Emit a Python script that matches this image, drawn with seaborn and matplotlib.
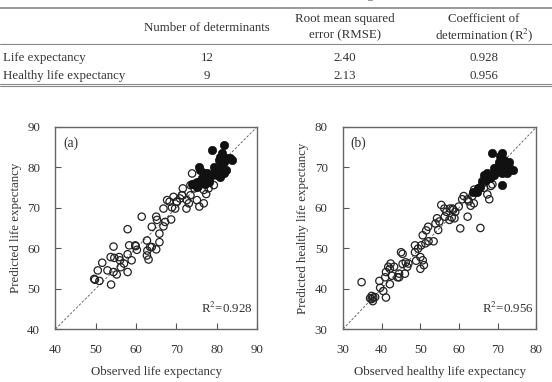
import numpy as np
import pandas as pd
import seaborn as sns
import matplotlib.pyplot as plt
from matplotlib.lines import Line2D

# ---- table values ----
table_rows = ['Life expectancy', 'Healthy life expectancy']
n_determinants = ['12', '9']
rmse = ['2.40', '2.13']
r2 = ['0.928', '0.956']

# ---- panel (a): life expectancy (observed, predicted) ----
le_open_obs = [49.6, 49.8, 50.9, 50.5, 51.6, 53.8, 52.9, 53.7, 54.4, 54.6, 55.8, 56.0, 54.4, 55.2,
               56.2, 57.0, 57.9, 57.9, 58.9, 58.3, 57.9, 59.9, 60.2, 59.8, 61.4, 62.7, 62.8, 62.7,
               63.1, 63.5, 63.9, 65.0, 63.9, 65.0, 65.2, 65.8, 65.8, 66.8, 67.2, 68.7, 66.8, 67.7,
               68.3, 68.9, 69.7, 69.3, 70.1, 70.9, 71.4, 71.6, 72.5, 73.1, 73.5, 73.9, 74.5, 75.1,
               75.7, 76.8, 77.4, 78.0, 79.3, 75.5, 76.8, 73.5, 74.7, 72.6, 71.4, 70.1]
le_open_pred = [52.4, 52.2, 51.9, 54.5, 56.4, 51.0, 54.5, 57.8, 60.4, 57.6, 57.8, 57.0, 54.1, 53.5,
                55.3, 56.2, 54.1, 58.5, 57.0, 60.7, 64.7, 60.5, 59.6, 60.7, 67.8, 61.9, 59.4, 58.2,
                57.2, 60.3, 60.3, 59.7, 65.3, 67.8, 67.0, 63.6, 61.5, 65.4, 66.5, 67.1, 69.8, 71.9,
                71.5, 70.1, 69.8, 72.7, 71.5, 72.3, 73.1, 74.8, 69.8, 71.1, 73.1, 78.5, 74.8, 71.9,
                70.3, 71.1, 73.4, 74.8, 75.6, 75.2, 74.4, 75.6, 76.0, 71.9, 73.1, 71.5]
le_fill_obs = [78.8, 81.7, 81.3, 83.4, 81.7, 80.9, 80.1, 81.7, 79.3, 77.6, 76.8, 76.0, 75.1, 74.3,
               75.5, 75.9, 76.8, 78.4, 80.1, 82.2, 80.5, 82.6, 83.8, 80.9, 79.7, 78.0, 76.4, 75.1,
               73.9, 77.2, 79.3, 80.9, 81.3]
le_fill_pred = [84.3, 85.5, 83.5, 82.2, 81.4, 80.1, 79.3, 78.5, 78.5, 78.5, 77.7, 76.8, 76.4, 76.0,
                80.1, 79.3, 78.5, 77.7, 78.1, 79.3, 81.8, 82.2, 81.8, 82.6, 78.9, 76.4, 77.3, 75.2,
                76.0, 76.0, 80.1, 77.7, 78.9]

# ---- panel (b): healthy life expectancy (observed, predicted) ----
hle_open_obs = [34.8, 37.4, 37.8, 37.7, 37.0, 38.3, 37.4, 39.4, 39.6, 40.4, 41.1, 40.9, 41.1, 41.7,
                42.1, 42.6, 42.3, 42.1, 43.2, 44.5, 44.1, 44.5, 45.4, 45.0, 46.2, 45.4, 46.0, 46.6,
                46.9, 48.6, 48.6, 48.9, 50.0, 49.4, 50.2, 50.0, 50.9, 50.6, 50.6, 51.5, 51.3, 52.1,
                52.0, 53.4, 53.9, 54.3, 54.6, 54.9, 55.4, 56.2, 56.3, 56.7, 57.5, 57.6, 58.3, 58.8,
                59.0, 59.9, 60.3, 60.8, 61.2, 62.2, 62.5, 63.4, 63.9, 62.2, 63.0, 65.5, 66.4, 67.3,
                68.2, 68.6, 66.4, 67.8, 63.8, 58.5, 58.1]
hle_open_pred = [41.6, 38.2, 37.8, 36.9, 37.6, 37.9, 37.4, 41.9, 40.2, 39.4, 37.8, 42.8, 44.1, 45.4,
                 41.1, 43.2, 46.2, 44.9, 45.4, 43.7, 42.8, 42.8, 48.6, 49.0, 46.5, 46.1, 43.7, 45.4,
                 46.2, 50.7, 49.0, 46.9, 47.8, 49.9, 50.7, 44.9, 45.8, 47.0, 53.2, 54.4, 51.2, 51.7,
                 55.3, 51.7, 56.1, 57.4, 54.5, 56.6, 60.7, 59.8, 57.8, 59.0, 57.0, 59.8, 59.8, 57.4,
                 59.0, 60.3, 54.9, 62.1, 62.9, 57.8, 61.6, 62.9, 64.5, 62.1, 60.5, 55.0, 64.9, 63.3,
                 65.4, 65.8, 66.2, 62.1, 61.1, 59.5, 57.6]
hle_fill_obs = [68.6, 71.0, 70.2, 71.9, 72.8, 71.5, 71.0, 72.3, 71.0, 74.0, 68.9, 67.6, 68.9, 66.4,
                66.0, 65.4, 64.5, 67.2, 69.8, 70.6, 71.5, 72.8, 71.9, 69.3, 68.1, 66.9, 64.9, 63.7]
hle_fill_pred = [73.5, 73.5, 71.4, 71.0, 71.4, 69.4, 68.5, 68.5, 65.6, 69.4, 69.8, 68.1, 68.1, 68.1,
                 66.5, 65.2, 64.0, 68.5, 70.2, 72.7, 71.9, 70.2, 70.6, 68.9, 67.3, 66.9, 64.8, 64.0]

sns.set_style('ticks')
plt.rcParams['font.family'] = ['Liberation Serif', 'DejaVu Serif']
plt.rcParams['mathtext.fontset'] = 'stix'

fs = 9.3
tc = '#333333'

fig = plt.figure(figsize=(5.52, 3.82), dpi=100)

# ---- table drawn as figure text (caption is cut off at the top, as in the source) ----
fig.text(0.54, 1.012, 'Numbers of determinants, and RMSE of regression models', ha='center',
         va='center', fontsize=fs, color='#444444')
for y, lw in [(0.979, 1.2), (0.885, 0.8), (0.779, 0.8), (0.774, 0.8)]:
    fig.add_artist(Line2D([0, 1], [y, y], transform=fig.transFigure, color='#888888', lw=lw))
col_x = [0.375, 0.625, 0.877]
fig.text(col_x[0], 0.927, 'Number of determinants', ha='center', va='center', fontsize=fs, color=tc)
fig.text(col_x[1], 0.949, 'Root mean squared', ha='center', va='center', fontsize=fs, color=tc)
fig.text(col_x[1], 0.907, 'error (RMSE)', ha='center', va='center', fontsize=fs, color=tc)
fig.text(col_x[2], 0.949, 'Coefficient of', ha='center', va='center', fontsize=fs, color=tc)
fig.text(col_x[2], 0.907, 'determination (R$^2$)', ha='center', va='center', fontsize=fs, color=tc)
for i, row_y in enumerate([0.847, 0.802]):
    fig.text(0.006, row_y, table_rows[i], ha='left', va='center', fontsize=fs, color=tc)
    fig.text(col_x[0], row_y, n_determinants[i], ha='center', va='center', fontsize=fs, color=tc)
    fig.text(col_x[1], row_y, rmse[i], ha='center', va='center', fontsize=fs, color=tc)
    fig.text(col_x[2], row_y, r2[i], ha='center', va='center', fontsize=fs, color=tc)

# ---- scatter panels ----
ax_a = fig.add_axes([0.1005, 0.1387, 0.365, 0.529])
ax_b = fig.add_axes([0.6214, 0.1387, 0.3505, 0.529])

panels = [
    (ax_a, le_open_obs, le_open_pred, le_fill_obs, le_fill_pred, 40, 90,
     'Observed life expectancy', 'Predicted life expectancy', '(a)', 'R$^2$=0.928'),
    (ax_b, hle_open_obs, hle_open_pred, hle_fill_obs, hle_fill_pred, 30, 80,
     'Observed healthy life expectancy', 'Predicted healthy life expectancy', '(b)', 'R$^2$=0.956'),
]

for ax, xo, yo, xf, yf, lo, hi, xlab, ylab, tag, r2txt in panels:
    df_open = pd.DataFrame({'obs': xo, 'pred': yo})
    df_fill = pd.DataFrame({'obs': xf, 'pred': yf})
    ax.plot([lo, hi], [lo, hi], ls=(0, (3, 2)), color='#555555', lw=0.6, zorder=1)
    sns.scatterplot(data=df_open, x='obs', y='pred', ax=ax, s=28, facecolor='none',
                    edgecolor='#222222', linewidth=0.9, zorder=2)
    sns.scatterplot(data=df_fill, x='obs', y='pred', ax=ax, s=36, color='#111111',
                    edgecolor='#111111', linewidth=0.5, zorder=3)
    ax.set_xlim(lo, hi)
    ax.set_ylim(lo, hi)
    ticks = np.arange(lo, hi + 1, 10)
    ax.set_xticks(ticks)
    ax.set_yticks(ticks)
    ax.tick_params(direction='in', length=4, width=0.8, color='#555555', labelsize=fs,
                   labelcolor=tc, pad=11)
    for sp in ax.spines.values():
        sp.set_visible(True)
        sp.set_color('#666666')
        sp.set_linewidth(1.0)
    ax.set_xlabel(xlab, fontsize=fs, color=tc, labelpad=7)
    ax.set_ylabel(ylab, fontsize=fs, color=tc, labelpad=4)
    ax.text(0.04, 0.955, tag, transform=ax.transAxes, ha='left', va='top', fontsize=fs + 0.5, color=tc)
    ax.text(0.85, 0.1, r2txt, transform=ax.transAxes, ha='center', va='center', fontsize=fs,
            color=tc)

fig.savefig('out.png', dpi=100)
